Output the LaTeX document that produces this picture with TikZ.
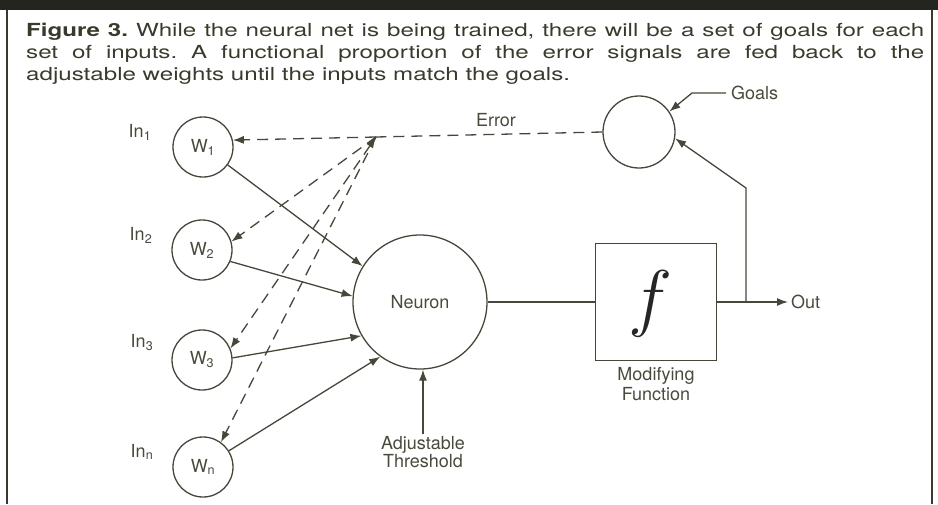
\documentclass[tikz,border=0pt]{standalone}
\usepackage{fontspec}
\usepackage{graphicx}
\setmainfont{TeX Gyre Heros}
\newfontfamily\capfont{TeX Gyre Heros}[FakeStretch=1.34]
\usetikzlibrary{arrows.meta}
\definecolor{inkLine}{HTML}{46463A}
\definecolor{inkText}{HTML}{4A4A3C}
\definecolor{capText}{HTML}{3A3A2C}
\definecolor{barFill}{HTML}{25251F}
\frenchspacing

\begin{document}
\begin{tikzpicture}[
  x=1pt, y=-1pt,
  font=\fontsize{18}{20}\selectfont,
  wgt/.style   ={draw=inkLine, circle, line width=1.3pt, minimum size=60pt, inner sep=0pt, text=inkText},
  neuron/.style={draw=inkLine, circle, line width=1.3pt, minimum size=134pt, inner sep=0pt, text=inkText},
  fbox/.style  ={draw=inkLine, line width=1.3pt, minimum width=121pt, minimum height=117pt, inner sep=0pt},
  lbl/.style   ={text=inkText, inner sep=2pt},
  wire/.style  ={draw=inkLine, line width=1.3pt},
  arr/.style   ={wire, -{Latex[length=11pt, width=8pt]}},
  err/.style   ={wire, dash pattern=on 11pt off 7pt},
  frameLine/.style={draw=inkLine!80!black, line width=2pt},
]
\useasboundingbox (0,0) rectangle (938,504);

% ==================== frame + caption ====================
\fill[barFill] (0,0) rectangle (938,10);
\draw[frameLine] (7,10) -- (7,504);
\draw[frameLine] (932,10) -- (932,504);

\node[anchor=north west, inner sep=0pt, text width=898pt, align=justify, text=capText,
      font=\capfont\fontsize{18}{22}\selectfont] (caption) at (26,23)
  {\textbf{Figure 3.} While the neural net is being trained, there will be a set of goals for each\linebreak
   set of inputs. A functional proportion of the error signals are fed back to the\linebreak
   adjustable weights until the inputs match the goals.};

% ==================== inputs and weights ====================
\node[wgt] (w1) at (203,147) {W\textsubscript{1}};
\node[wgt] (w2) at (202,250) {W\textsubscript{2}};
\node[wgt] (w3) at (202,360) {W\textsubscript{3}};
\node[wgt] (wn) at (203,467) {W\textsubscript{n}};

\node[lbl] (in1) at (140,132) {In\textsubscript{1}};
\node[lbl] (in2) at (141,235) {In\textsubscript{2}};
\node[lbl] (in3) at (142,343) {In\textsubscript{3}};
\node[lbl] (inn) at (142,452) {In\textsubscript{n}};

% ==================== neuron, function, goals ====================
\node[neuron] (neuron) at (420,302) {Neuron};
\node[fbox] (func) at (656,302) {};
\node[inner sep=0pt, text=black!85] (fsym) at (650,304) {\fontsize{24.88}{25}\selectfont\scalebox{3}{$f$}};
\node[lbl, align=center, font=\fontsize{18}{20}\selectfont, below=4pt] (modLbl) at (func.south) {Modifying\\Function};

\node[wgt, minimum size=72pt] (goals) at (639,132) {};
\node[lbl, anchor=west, inner sep=5pt] (goalsLbl) at (726,93) {Goals};
\coordinate (gk) at (692,93);

\node[lbl, align=center, font=\fontsize{18}{18}\selectfont] (thr) at (423,452) {Adjustable\\Threshold};

\node[lbl, anchor=west, inner sep=3pt] (out) at (788,302) {Out};
\coordinate (tap) at (746,188);
\coordinate (jn) at (376,137);

% ==================== connectors ====================
\draw[arr] (w1.324) -- (neuron.148);
\draw[arr] (w2.338) -- (neuron.175);
\draw[arr] (w3.4)   -- (neuron.210);
\draw[arr] (wn.32)  -- (neuron.234);

\draw[arr] (thr.north) -- (thr.north |- neuron.south);
\draw[wire] (neuron.east) -- (func.west);
\draw[arr] (func.east) -- (out.west);
\draw[arr] (tap |- func.east) -- (tap) -- (goals.350);
\draw[arr] (goalsLbl.west) -- (gk) -- (goals.34);

% error feedback
\draw[err] (goals.west) -- node[lbl, above=5pt, pos=0.47]{Error} (jn);
\draw[err, -{Latex[length=11pt, width=8pt]}] (jn) -- (w1.13);
\draw[err, -{Latex[length=11pt, width=8pt]}] (jn) -- (w2.16);
\draw[err, {Latex[length=11pt, width=8pt]}-{Latex[length=11pt, width=8pt]}] (jn) -- (w3.22);
\draw[err, -{Latex[length=11pt, width=8pt]}] (jn) -- (wn.54);

\end{tikzpicture}
\end{document}
